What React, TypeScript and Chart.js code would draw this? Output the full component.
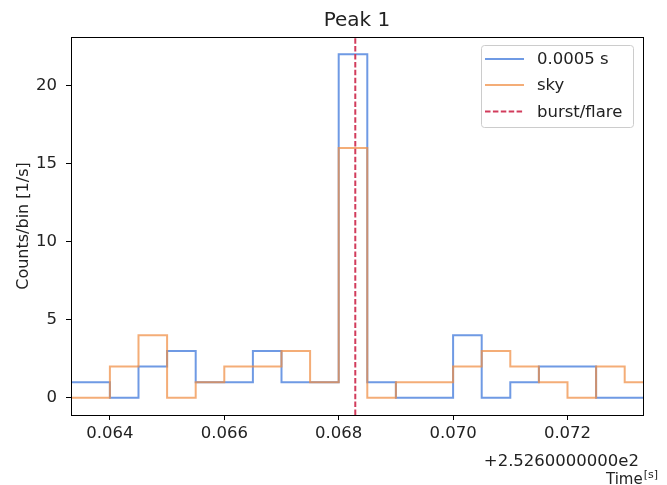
import React, { useEffect, useRef } from "react";
import { Chart, registerables } from "chart.js";

Chart.register(...registerables);

// ---- data ----
const binEdges = [
  0.063, 0.0635, 0.064, 0.0645, 0.065, 0.0655, 0.066, 0.0665, 0.067, 0.0675, 0.068,
  0.0685, 0.069, 0.0695, 0.07, 0.0705, 0.071, 0.0715, 0.072, 0.0725, 0.073, 0.0735,
];
const countsBinned = [1, 1, 0, 2, 3, 1, 1, 3, 1, 1, 22, 1, 0, 0, 4, 0, 1, 2, 2, 0, 0];
const countsSky = [0, 0, 2, 4, 0, 1, 2, 2, 3, 1, 16, 0, 1, 1, 2, 3, 2, 1, 0, 2, 1];
const burstTimes = [0.06829];
const xTicks = [0.064, 0.066, 0.068, 0.07, 0.072];
const yTicks = [0, 5, 10, 15, 20];
const seriesLabels = ["0.0005 s", "sky", "burst/flare"];
const titleText = "Peak 1";
const xOffsetText = "+2.5260000000e2";
const xLabelMain = "Time";
const xLabelSup = "[s]";
const yLabelText = "Counts/bin [1/s]";
const xRange = [0.06332, 0.07332];
const yRange = [-1.1, 23.1];

// ---- styles ----
const FONT = "'DejaVu Sans', sans-serif";
const BLUE = "rgba(70,125,220,0.78)";
const ORANGE = "rgba(240,142,66,0.72)";
const RED = "#d23c5c";
const TEXT = "#222222";

const W = 667;
const H = 485;
const PLOT_LEFT = 71;
const PLOT_RIGHT = 643;
const PLOT_TOP = 37;
const PLOT_BOTTOM = 415;

function stepPoints(values: number[]) {
  return binEdges.map((e, i) => ({ x: e, y: values[Math.min(i, values.length - 1)] }));
}

const decorPlugin = {
  id: "decor",
  afterDatasetsDraw(chart: any) {
    const { ctx, chartArea, scales } = chart;
    const xs = scales.x;
    ctx.save();
    // burst line
    ctx.strokeStyle = RED;
    ctx.lineWidth = 2;
    ctx.setLineDash([5.5, 2.4]);
    burstTimes.forEach((t) => {
      const px = xs.getPixelForValue(t);
      ctx.beginPath();
      ctx.moveTo(px, chartArea.bottom);
      ctx.lineTo(px, chartArea.top);
      ctx.stroke();
    });
    ctx.setLineDash([]);
    // frame
    ctx.strokeStyle = "#000";
    ctx.lineWidth = 1;
    ctx.strokeRect(
      Math.round(chartArea.left) + 0.5,
      Math.round(chartArea.top) + 0.5,
      Math.round(chartArea.right - chartArea.left),
      Math.round(chartArea.bottom - chartArea.top)
    );
    ctx.restore();
  },
  afterDraw(chart: any) {
    const { ctx, chartArea } = chart;
    ctx.save();
    ctx.fillStyle = TEXT;
    // title
    ctx.font = `20px ${FONT}`;
    ctx.textAlign = "center";
    ctx.textBaseline = "alphabetic";
    ctx.fillText(titleText, (chartArea.left + chartArea.right) / 2, 26);
    // y label
    ctx.save();
    ctx.translate(28, (chartArea.top + chartArea.bottom) / 2);
    ctx.rotate(-Math.PI / 2);
    ctx.font = `16px ${FONT}`;
    ctx.textAlign = "center";
    ctx.textBaseline = "alphabetic";
    ctx.fillText(yLabelText, 0, 0);
    ctx.restore();
    // offset text
    ctx.font = `16.5px ${FONT}`;
    ctx.textAlign = "right";
    ctx.textBaseline = "alphabetic";
    ctx.fillText(xOffsetText, 639, 466);
    // x label
    ctx.font = `11px ${FONT}`;
    ctx.textAlign = "right";
    ctx.fillText(xLabelSup, 658, 478);
    const supW = ctx.measureText(xLabelSup).width;
    ctx.font = `15px ${FONT}`;
    ctx.fillText(xLabelMain, 658 - supW - 1, 484);
    // legend
    const bx = 481.5, by = 45.5, bw = 152, bh = 82;
    ctx.fillStyle = "rgba(255,255,255,0.8)";
    ctx.strokeStyle = "#cccccc";
    ctx.lineWidth = 1;
    ctx.beginPath();
    (ctx as any).roundRect(bx, by, bw, bh, 3);
    ctx.fill();
    ctx.stroke();
    const rows = [59, 85, 111.5];
    const colors = [BLUE, ORANGE, RED];
    rows.forEach((ry, i) => {
      ctx.strokeStyle = colors[i];
      ctx.lineWidth = 2;
      ctx.setLineDash(i === 2 ? [5.5, 2.4] : []);
      ctx.beginPath();
      ctx.moveTo(485, ry);
      ctx.lineTo(524, ry);
      ctx.stroke();
      ctx.setLineDash([]);
      ctx.fillStyle = TEXT;
      ctx.font = `16.5px ${FONT}`;
      ctx.textAlign = "left";
      ctx.textBaseline = "middle";
      ctx.fillText(seriesLabels[i], 537, ry + 1);
    });
    ctx.restore();
  },
};

export default function App() {
  const ref = useRef<HTMLCanvasElement | null>(null);
  useEffect(() => {
    document.body.style.margin = "0";
    const canvas = ref.current!;
    const chart = new Chart(canvas, {
      type: "line",
      data: {
        datasets: [
          {
            label: seriesLabels[0],
            data: stepPoints(countsBinned),
            borderColor: BLUE,
            borderWidth: 2,
            pointRadius: 0,
            stepped: "before",
            fill: false,
            order: 2,
          },
          {
            label: seriesLabels[1],
            data: stepPoints(countsSky),
            borderColor: ORANGE,
            borderWidth: 2,
            pointRadius: 0,
            stepped: "before",
            fill: false,
            order: 1,
          },
        ],
      },
      options: {
        animation: false,
        responsive: false,
        maintainAspectRatio: false,
        devicePixelRatio: 1,
        layout: { padding: { left: 0, right: W - PLOT_RIGHT, top: PLOT_TOP, bottom: 0 } },
        plugins: {
          legend: { display: false },
          tooltip: { enabled: false },
          title: { display: false },
        },
        scales: {
          x: {
            type: "linear",
            min: xRange[0],
            max: xRange[1],
            border: { display: false },
            grid: { display: true, drawOnChartArea: false, drawTicks: true, tickLength: 5, tickColor: "#000" },
            afterBuildTicks: (s: any) => {
              s.ticks = xTicks.map((v) => ({ value: v }));
            },
            afterFit: (s: any) => {
              s.height = H - PLOT_BOTTOM;
            },
            ticks: {
              color: TEXT,
              font: { family: FONT, size: 16.5 },
              padding: 4,
              maxRotation: 0,
              autoSkip: false,
              callback: (v: any) => Number(v).toFixed(3),
            },
          },
          y: {
            type: "linear",
            min: yRange[0],
            max: yRange[1],
            border: { display: false },
            grid: { display: true, drawOnChartArea: false, drawTicks: true, tickLength: 5, tickColor: "#000" },
            afterBuildTicks: (s: any) => {
              s.ticks = yTicks.map((v) => ({ value: v }));
            },
            afterFit: (s: any) => {
              s.width = PLOT_LEFT;
            },
            ticks: {
              color: TEXT,
              font: { family: FONT, size: 16.5 },
              padding: 9,
              autoSkip: false,
              callback: (v: any) => String(v),
            },
          },
        },
      },
      plugins: [decorPlugin],
    });
    return () => chart.destroy();
  }, []);
  return (
    <div style={{ width: W, height: H, background: "#fff" }}>
      <canvas ref={ref} width={W} height={H} style={{ width: W, height: H, display: "block" }} />
    </div>
  );
}
